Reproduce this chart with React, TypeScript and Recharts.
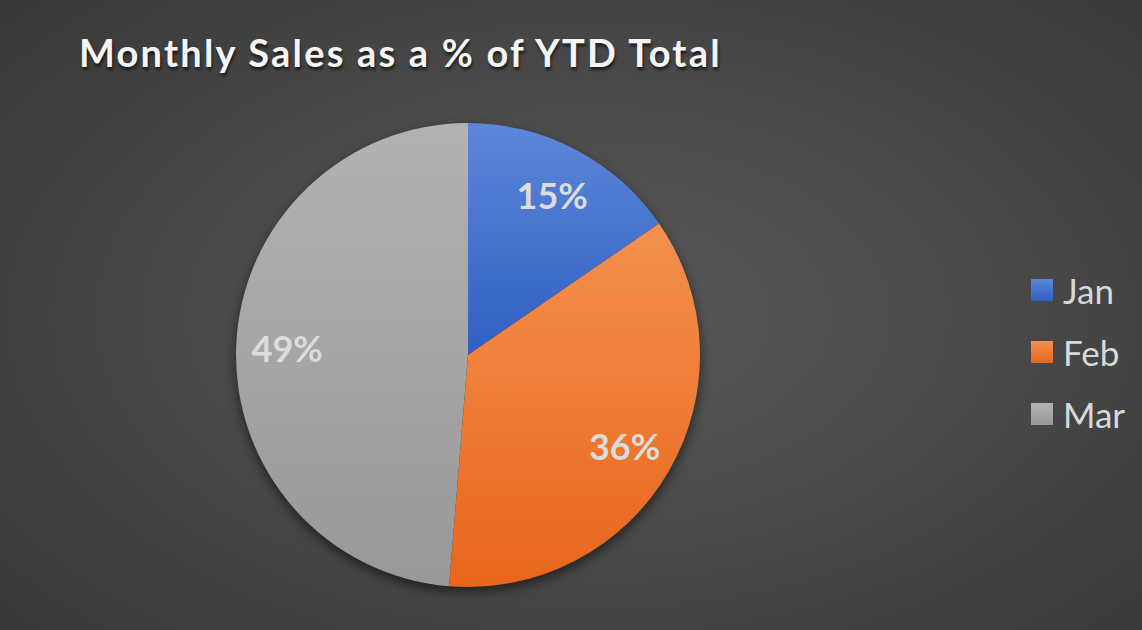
import React from "react";
import { PieChart, Pie, Cell, Legend } from "recharts";

const months = ["Jan", "Feb", "Mar"];
const sales = [15.4, 35.9, 48.7];
const gradTop = ["#5d87d8", "#f4914f", "#b2b2b2"];
const gradBottom = ["#2f5fc3", "#e8661b", "#989898"];
const title = "Monthly Sales as a % of YTD Total";

const data = months.map((m, i) => ({ name: m, value: sales[i] }));
const RAD = Math.PI / 180;

const renderLabel = (props: any) => {
  const { cx, cy, midAngle, outerRadius, percent } = props;
  const r = outerRadius * 0.78;
  const x = cx + r * Math.cos(-midAngle * RAD);
  const y = cy + r * Math.sin(-midAngle * RAD);
  return (
    <text
      x={x}
      y={y}
      fill="#dcdcdc"
      textAnchor="middle"
      dominantBaseline="central"
      style={{ fontFamily: "Lato, sans-serif", fontWeight: 700, fontSize: 36 }}
    >
      {`${Math.round(percent * 100)}%`}
    </text>
  );
};

const renderLegend = () => {
  return (
    <div style={{ display: "flex", flexDirection: "column", gap: 21 }}>
      {months.map((m, i) => (
        <div key={m} style={{ display: "flex", alignItems: "center", height: 41 }}>
          <div
            style={{
              width: 22,
              height: 22,
              background: `linear-gradient(${gradTop[i]}, ${gradBottom[i]})`,
              marginRight: 10,
            }}
          />
          <span style={{ fontFamily: "Lato, sans-serif", fontSize: 35, color: "#d9d9d9" }}>{m}</span>
        </div>
      ))}
    </div>
  );
};

export default function App() {
  return (
    <div
      style={{
        position: "absolute",
        left: 0,
        top: 0,
        width: 1142,
        height: 630,
        overflow: "hidden",
        background: "radial-gradient(ellipse 75% 80% at 52% 50%, #575757 0%, #4a4a4a 45%, #353535 100%)",
      }}
    >
      <style>{`.recharts-pie { filter: drop-shadow(0px 5px 6px rgba(0,0,0,0.55)); }`}</style>
      <div
        style={{
          position: "absolute",
          left: 79,
          top: 29,
          fontFamily: "Lato, sans-serif",
          fontWeight: 700,
          fontSize: 38,
          letterSpacing: 2.2,
          color: "#f5f5f5",
          textShadow: "1px 3px 3px rgba(0,0,0,0.6)",
          whiteSpace: "nowrap",
        }}
      >
        {title}
      </div>
      <PieChart
        width={1142}
        height={630}
        margin={{ top: 0, right: 0, bottom: 0, left: 0 }}
        style={{ position: "absolute", left: 0, top: 0 }}
      >
        <defs>
          {months.map((m, i) => (
            <linearGradient key={m} id={`g${i}`} x1="0" y1="0" x2="0" y2="1">
              <stop offset="0%" stopColor={gradTop[i]} />
              <stop offset="100%" stopColor={gradBottom[i]} />
            </linearGradient>
          ))}
        </defs>
        <Pie
          data={data}
          dataKey="value"
          nameKey="name"
          cx={468}
          cy={355}
          outerRadius={232}
          startAngle={90}
          endAngle={-270}
          stroke="none"
          label={renderLabel}
          labelLine={false}
          isAnimationActive={false}
        >
          {data.map((d, i) => (
            <Cell key={d.name} fill={`url(#g${i})`} />
          ))}
        </Pie>
        <Legend
          layout="vertical"
          content={renderLegend}
          wrapperStyle={{ position: "absolute", left: 1031, top: 269, width: 120 }}
        />
      </PieChart>
    </div>
  );
}
